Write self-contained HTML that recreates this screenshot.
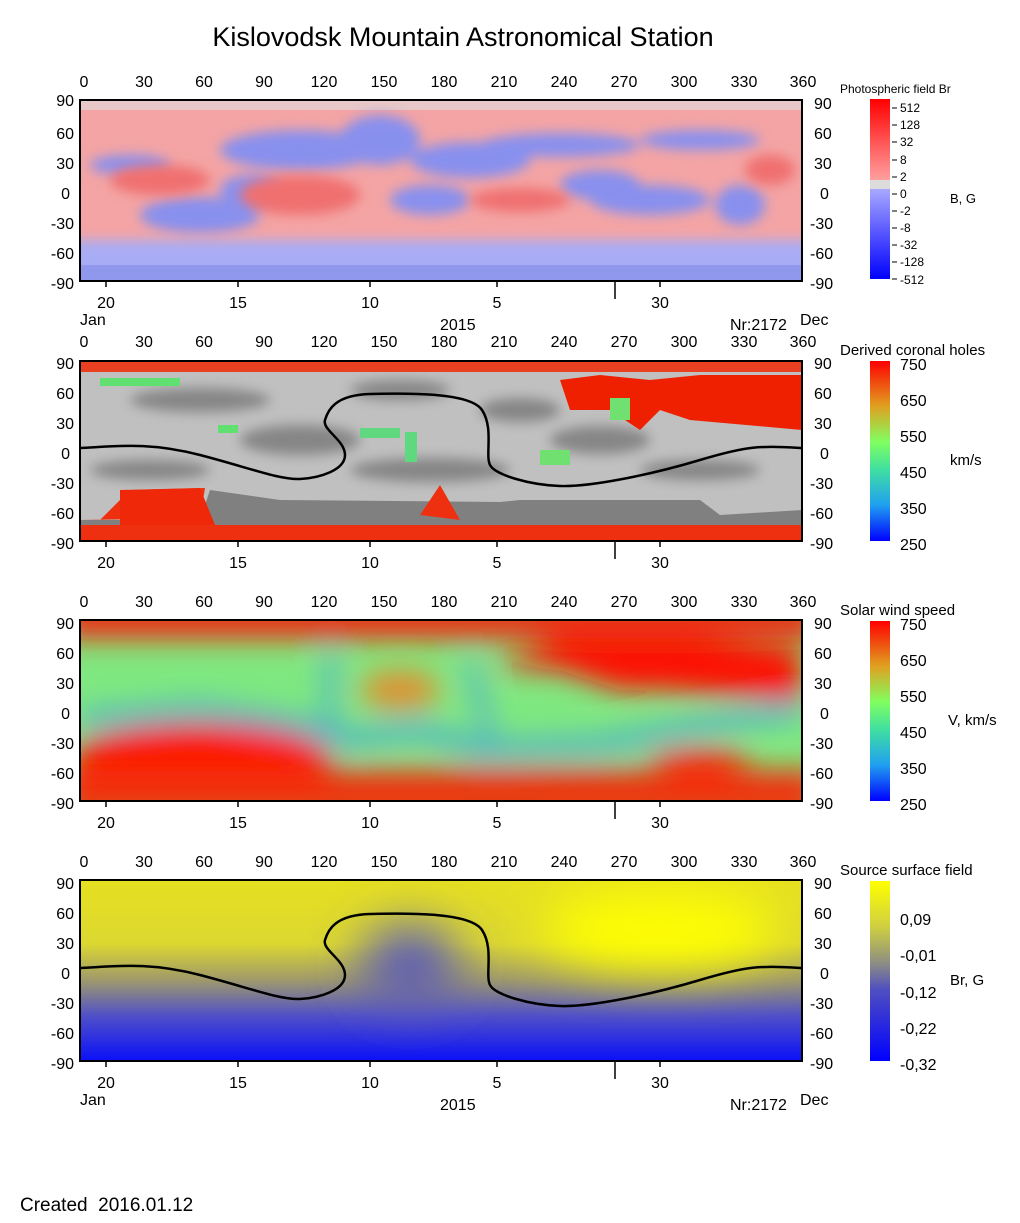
<!DOCTYPE html>
<html><head><meta charset="utf-8"><style>
body{margin:0;background:#fff;}
svg{display:block;font-family:"Liberation Sans",Arial,sans-serif;}
text{fill:#000;}
</style></head><body>
<svg width="1020" height="1223" viewBox="0 0 1020 1223" xmlns="http://www.w3.org/2000/svg">
<defs>
<filter id="b6" x="-50%" y="-50%" width="200%" height="200%"><feGaussianBlur stdDeviation="6"/></filter>
<filter id="b14" x="-50%" y="-50%" width="200%" height="200%"><feGaussianBlur stdDeviation="14"/></filter>
<filter id="b25" x="-100%" y="-100%" width="300%" height="300%"><feGaussianBlur stdDeviation="25"/></filter>
<linearGradient id="p4" x1="0" y1="0" x2="0" y2="1">
<stop offset="0" stop-color="#e6e020"/><stop offset="0.35" stop-color="#dcd830"/><stop offset="0.55" stop-color="#a09a6a"/><stop offset="0.75" stop-color="#5050c8"/><stop offset="1" stop-color="#0a10f8"/></linearGradient>
<linearGradient id="cb4" x1="0" y1="1" x2="0" y2="0">
<stop offset="0" stop-color="#0000ff"/><stop offset="0.4" stop-color="#5050c0"/><stop offset="0.55" stop-color="#909080"/><stop offset="0.75" stop-color="#d0d040"/><stop offset="1" stop-color="#ffff00"/></linearGradient>
<linearGradient id="cbv" x1="0" y1="1" x2="0" y2="0">
<stop offset="0" stop-color="#0000ff"/><stop offset="0.2" stop-color="#20a0f0"/><stop offset="0.4" stop-color="#40e0a0"/><stop offset="0.55" stop-color="#80ff60"/><stop offset="0.75" stop-color="#e0a020"/><stop offset="1" stop-color="#ff0000"/></linearGradient>
<linearGradient id="cb1" x1="0" y1="0" x2="0" y2="1">
<stop offset="0" stop-color="#ff0000"/><stop offset="0.45" stop-color="#ffa0a0"/><stop offset="0.45" stop-color="#dcdcdc"/><stop offset="0.5" stop-color="#dcdcdc"/><stop offset="0.5" stop-color="#a8a8ff"/><stop offset="1" stop-color="#0000ff"/></linearGradient>
<clipPath id="c1"><rect x="80" y="100" width="722" height="181"/></clipPath>
<clipPath id="c2"><rect x="80" y="361" width="722" height="180"/></clipPath>
<clipPath id="c3"><rect x="80" y="620" width="722" height="181"/></clipPath>
<clipPath id="c4"><rect x="80" y="880" width="722" height="181"/></clipPath>
</defs>

<text x="463" y="46" font-size="27" text-anchor="middle">Kislovodsk Mountain Astronomical Station</text>

<!-- Panel 1 -->
<g clip-path="url(#c1)">
<rect x="80" y="100" width="722" height="181" fill="#f4a4a4"/>
<rect x="80" y="100" width="722" height="10" fill="#e8c8c8"/>
<g filter="url(#b6)" fill="#8890ee">
<ellipse cx="300" cy="150" rx="80" ry="20"/><ellipse cx="380" cy="140" rx="40" ry="25"/>
<ellipse cx="200" cy="215" rx="60" ry="18"/><ellipse cx="470" cy="160" rx="60" ry="18"/>
<ellipse cx="430" cy="200" rx="40" ry="15"/><ellipse cx="600" cy="185" rx="40" ry="15"/>
<ellipse cx="650" cy="200" rx="60" ry="15"/><ellipse cx="740" cy="205" rx="25" ry="20"/>
<ellipse cx="560" cy="145" rx="80" ry="12"/><ellipse cx="130" cy="165" rx="40" ry="10"/>
<ellipse cx="700" cy="140" rx="60" ry="10"/><ellipse cx="250" cy="190" rx="30" ry="15"/>
</g>
<g filter="url(#b6)" fill="#f07070">
<ellipse cx="160" cy="180" rx="50" ry="15"/><ellipse cx="300" cy="195" rx="60" ry="20"/>
<ellipse cx="770" cy="170" rx="25" ry="15"/><ellipse cx="520" cy="200" rx="50" ry="12"/>
</g>
<rect x="60" y="240" width="760" height="41" fill="#a8acf4" filter="url(#b6)"/>
<rect x="80" y="265" width="722" height="16" fill="#9098ee"/>
</g>
<rect x="80" y="100" width="722" height="181" fill="none" stroke="#000" stroke-width="2"/>

<!-- Panel 2 -->
<g clip-path="url(#c2)">
<rect x="80" y="361" width="722" height="180" fill="#c0c0c0"/>
<g fill="#808080" filter="url(#b6)" opacity="0.9">
<ellipse cx="200" cy="400" rx="70" ry="12"/><ellipse cx="300" cy="440" rx="60" ry="15"/>
<ellipse cx="430" cy="470" rx="80" ry="12"/><ellipse cx="600" cy="440" rx="50" ry="14"/>
<ellipse cx="700" cy="470" rx="60" ry="10"/><ellipse cx="150" cy="470" rx="60" ry="10"/>
<ellipse cx="400" cy="390" rx="50" ry="10"/><ellipse cx="520" cy="410" rx="40" ry="12"/>
</g>
<path d="M80 361H802V372H80Z" fill="#e84020"/>
<path d="M80 520L200 520L210 490L280 500L500 502L520 500L700 500L720 515L802 510V541H80Z" fill="#808080"/>
<path d="M80 520L200 518L205 488L130 490L100 520Z" fill="#ee3010"/>
<path d="M80 525H802V541H80Z" fill="#ee3010"/>
<path d="M120 490L200 488L215 525L120 525Z" fill="#ee2808"/>
<path d="M420 515L440 485L460 520Z" fill="#ee3010"/>
<path d="M560 380L600 375L650 380L700 375L802 375V430L690 420L660 410L640 430L610 410L570 410Z" fill="#ee2000"/>
<rect x="610" y="398" width="20" height="22" fill="#70e070"/>
<rect x="540" y="450" width="30" height="15" fill="#70e070"/>
<rect x="360" y="428" width="40" height="10" fill="#60d880"/>
<rect x="405" y="432" width="12" height="30" fill="#60d880"/>
<rect x="100" y="378" width="80" height="8" fill="#60e070"/>
<rect x="218" y="425" width="20" height="8" fill="#60e070"/>
<path d="M80 448C120 446 150 442 200 455S280 480 300 479S345 470 345 455S322 430 325 420S335 395 370 394S470 392 482 410S485 455 490 465S530 485 560 486S650 475 700 460S760 446 802 448" fill="none" stroke="#000" stroke-width="2.5"/>
</g>
<rect x="80" y="361" width="722" height="180" fill="none" stroke="#000" stroke-width="2"/>

<!-- Panel 3 -->
<g clip-path="url(#c3)">
<rect x="80" y="620" width="722" height="181" fill="#80e880"/>
<g filter="url(#b14)">
<rect x="60" y="600" width="760" height="38" fill="#f02808"/>
<ellipse cx="200" cy="760" rx="130" ry="35" fill="#ff1800"/>
<rect x="60" y="770" width="760" height="50" fill="#f03010"/>
<path d="M490 665L560 640L700 640L802 650V700L660 690L620 690L560 670Z" fill="#ff1000"/>
<ellipse cx="400" cy="690" rx="40" ry="20" fill="#e09030"/>
<path d="M80 720L200 710L300 725L340 740L420 730L480 750L600 745L760 715L802 710" stroke="#40a0e0" stroke-width="14" fill="none"/>
<path d="M330 650L330 730M470 660L490 740" stroke="#40a0e0" stroke-width="10" fill="none"/>
<ellipse cx="700" cy="760" rx="50" ry="10" fill="#ff2000"/>
</g>
</g>
<rect x="80" y="620" width="722" height="181" fill="none" stroke="#000" stroke-width="2"/>

<!-- Panel 4 -->
<g clip-path="url(#c4)">
<rect x="80" y="880" width="722" height="181" fill="url(#p4)"/>
<ellipse cx="660" cy="930" rx="120" ry="40" fill="#ffff00" filter="url(#b25)"/>
<ellipse cx="410" cy="965" rx="50" ry="40" fill="#5a5ab8" filter="url(#b25)"/>
<path d="M80 968C120 966 150 962 200 975S280 1000 300 999S345 990 345 975S322 950 325 940S335 915 370 914S470 912 482 930S485 975 490 985S530 1005 560 1006S650 995 700 980S760 966 802 968" fill="none" stroke="#000" stroke-width="2.5"/>
</g>
<rect x="80" y="880" width="722" height="181" fill="none" stroke="#000" stroke-width="2"/>

<!-- axes text -->
<g font-size="16">
<g text-anchor="middle">
<text x="84" y="87">0</text><text x="144" y="87">30</text><text x="204" y="87">60</text><text x="264" y="87">90</text><text x="324" y="87">120</text><text x="384" y="87">150</text><text x="444" y="87">180</text><text x="504" y="87">210</text><text x="564" y="87">240</text><text x="624" y="87">270</text><text x="684" y="87">300</text><text x="744" y="87">330</text><text x="803" y="87">360</text>
</g>
<g text-anchor="middle">
<text x="84" y="347">0</text><text x="144" y="347">30</text><text x="204" y="347">60</text><text x="264" y="347">90</text><text x="324" y="347">120</text><text x="384" y="347">150</text><text x="444" y="347">180</text><text x="504" y="347">210</text><text x="564" y="347">240</text><text x="624" y="347">270</text><text x="684" y="347">300</text><text x="744" y="347">330</text><text x="803" y="347">360</text>
</g>
<g text-anchor="middle">
<text x="84" y="607">0</text><text x="144" y="607">30</text><text x="204" y="607">60</text><text x="264" y="607">90</text><text x="324" y="607">120</text><text x="384" y="607">150</text><text x="444" y="607">180</text><text x="504" y="607">210</text><text x="564" y="607">240</text><text x="624" y="607">270</text><text x="684" y="607">300</text><text x="744" y="607">330</text><text x="803" y="607">360</text>
</g>
<g text-anchor="middle">
<text x="84" y="867">0</text><text x="144" y="867">30</text><text x="204" y="867">60</text><text x="264" y="867">90</text><text x="324" y="867">120</text><text x="384" y="867">150</text><text x="444" y="867">180</text><text x="504" y="867">210</text><text x="564" y="867">240</text><text x="624" y="867">270</text><text x="684" y="867">300</text><text x="744" y="867">330</text><text x="803" y="867">360</text>
</g>
<g text-anchor="end">
<text x="74" y="106">90</text><text x="74" y="139">60</text><text x="74" y="169">30</text><text x="70" y="199">0</text><text x="74" y="229">-30</text><text x="74" y="259">-60</text><text x="74" y="289">-90</text>
<text x="74" y="369">90</text><text x="74" y="399">60</text><text x="74" y="429">30</text><text x="70" y="459">0</text><text x="74" y="489">-30</text><text x="74" y="519">-60</text><text x="74" y="549">-90</text>
<text x="74" y="629">90</text><text x="74" y="659">60</text><text x="74" y="689">30</text><text x="70" y="719">0</text><text x="74" y="749">-30</text><text x="74" y="779">-60</text><text x="74" y="809">-90</text>
<text x="74" y="889">90</text><text x="74" y="919">60</text><text x="74" y="949">30</text><text x="70" y="979">0</text><text x="74" y="1009">-30</text><text x="74" y="1039">-60</text><text x="74" y="1069">-90</text>
</g>
<g>
<text x="814" y="109">90</text><text x="814" y="139">60</text><text x="814" y="169">30</text><text x="820" y="199">0</text><text x="810" y="229">-30</text><text x="810" y="259">-60</text><text x="810" y="289">-90</text>
<text x="814" y="369">90</text><text x="814" y="399">60</text><text x="814" y="429">30</text><text x="820" y="459">0</text><text x="810" y="489">-30</text><text x="810" y="519">-60</text><text x="810" y="549">-90</text>
<text x="814" y="629">90</text><text x="814" y="659">60</text><text x="814" y="689">30</text><text x="820" y="719">0</text><text x="810" y="749">-30</text><text x="810" y="779">-60</text><text x="810" y="809">-90</text>
<text x="814" y="889">90</text><text x="814" y="919">60</text><text x="814" y="949">30</text><text x="820" y="979">0</text><text x="810" y="1009">-30</text><text x="810" y="1039">-60</text><text x="810" y="1069">-90</text>
</g>
<g text-anchor="middle">
<text x="106" y="308">20</text><text x="238" y="308">15</text><text x="370" y="308">10</text><text x="497" y="308">5</text><text x="660" y="308">30</text>
<text x="106" y="568">20</text><text x="238" y="568">15</text><text x="370" y="568">10</text><text x="497" y="568">5</text><text x="660" y="568">30</text>
<text x="106" y="828">20</text><text x="238" y="828">15</text><text x="370" y="828">10</text><text x="497" y="828">5</text><text x="660" y="828">30</text>
<text x="106" y="1088">20</text><text x="238" y="1088">15</text><text x="370" y="1088">10</text><text x="497" y="1088">5</text><text x="660" y="1088">30</text>
</g>
<text x="80" y="325">Jan</text><text x="440" y="330">2015</text><text x="730" y="330">Nr:2172</text><text x="800" y="325">Dec</text>
<text x="80" y="1105">Jan</text><text x="440" y="1110">2015</text><text x="730" y="1110">Nr:2172</text><text x="800" y="1105">Dec</text>
<text x="20" y="1211" font-size="19" xml:space="preserve">Created  2016.01.12</text>
</g>
<g stroke="#000" stroke-width="1.5">
<path d="M615 281v18M615 541v18M615 801v18M615 1061v18"/>
<path d="M106 281v6M238 281v6M370 281v6M497 281v6M660 281v6M106 541v6M238 541v6M370 541v6M497 541v6M660 541v6M106 801v6M238 801v6M370 801v6M497 801v6M660 801v6M106 1061v6M238 1061v6M370 1061v6M497 1061v6M660 1061v6"/>
</g>

<!-- colorbars -->
<text x="840" y="93" font-size="12">Photospheric field Br</text>
<rect x="870" y="99" width="20" height="180" fill="url(#cb1)"/>
<g stroke="#000" stroke-width="1"><path d="M892 108h5M892 125h5M892 142h5M892 160h5M892 177h5M892 194h5M892 211h5M892 228h5M892 245h5M892 262h5M892 279h5"/></g>
<g font-size="12"><text x="900" y="112">512</text><text x="900" y="129">128</text><text x="900" y="146">32</text><text x="900" y="164">8</text><text x="900" y="181">2</text><text x="900" y="198">0</text><text x="900" y="215">-2</text><text x="900" y="232">-8</text><text x="900" y="249">-32</text><text x="900" y="266">-128</text><text x="900" y="284">-512</text></g>
<text x="950" y="203" font-size="13">B, G</text>

<text x="840" y="355" font-size="15">Derived coronal holes</text>
<rect x="870" y="361" width="20" height="180" fill="url(#cbv)"/>
<g font-size="16"><text x="900" y="370">750</text><text x="900" y="406">650</text><text x="900" y="442">550</text><text x="900" y="478">450</text><text x="900" y="514">350</text><text x="900" y="550">250</text></g>
<text x="950" y="465" font-size="15">km/s</text>

<text x="840" y="615" font-size="15">Solar wind speed</text>
<rect x="870" y="621" width="20" height="180" fill="url(#cbv)"/>
<g font-size="16"><text x="900" y="630">750</text><text x="900" y="666">650</text><text x="900" y="702">550</text><text x="900" y="738">450</text><text x="900" y="774">350</text><text x="900" y="810">250</text></g>
<text x="948" y="725" font-size="15">V, km/s</text>

<text x="840" y="875" font-size="15">Source surface field</text>
<rect x="870" y="881" width="20" height="180" fill="url(#cb4)"/>
<g font-size="16"><text x="900" y="925">0,09</text><text x="900" y="961">-0,01</text><text x="900" y="998">-0,12</text><text x="900" y="1034">-0,22</text><text x="900" y="1070">-0,32</text></g>
<text x="950" y="985" font-size="15">Br, G</text>
</svg>
</body></html>
